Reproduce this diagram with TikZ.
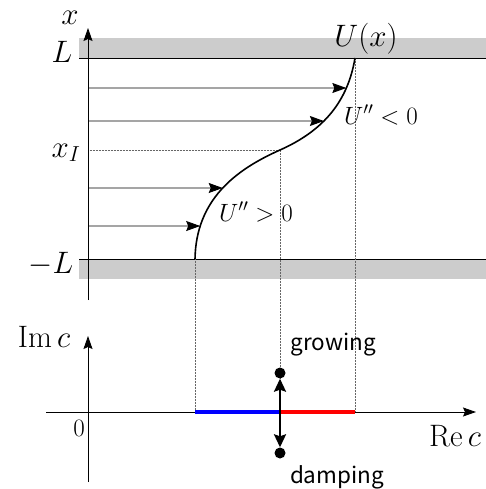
\RequirePackage{fix-cm}
\documentclass[tikz,border=0pt]{standalone}
\usepackage{fontspec}
\newfontfamily\jpfont{Noto Sans CJK JP}
\usetikzlibrary{arrows.meta,intersections}
\begin{document}
\begin{tikzpicture}[x=1pt,y=-1pt,
  lbl/.style={inner sep=0pt,font=\fontsize{31}{36}\selectfont},
  slbl/.style={inner sep=0pt,font=\fontsize{25}{30}\selectfont},
  jplbl/.style={inner sep=0pt,font=\jpfont\fontsize{22.5}{26}\selectfont},
  guide/.style={densely dotted,line width=0.5pt,black!60},
  flow/.style={-{Stealth[length=14pt,width=10pt,inset=2pt]},line width=0.9pt},
  axis/.style={-{Stealth[length=13pt,width=9pt,inset=2pt]},line width=0.9pt},
  bigarrow/.style={-{Stealth[length=13pt,width=12pt,inset=2pt]},line width=2.2pt},
  dot/.style={circle,fill=black,inner sep=0pt,minimum size=11pt}]
\useasboundingbox (0,0) rectangle (486,489);
% walls
\fill[black!20] (79,38) rectangle (486,58);
\fill[black!20] (79,259) rectangle (486,279);
\coordinate (wt0) at (79,58); \coordinate (wt1) at (486,58);
\coordinate (wb0) at (79,259); \coordinate (wb1) at (486,259);
\draw[line width=0.8pt] (wt0) -- (wt1);
\draw[line width=0.8pt] (wb0) -- (wb1);
% curve points
\coordinate (B) at (195,259);
\coordinate (I) at (280,150);
\coordinate (T) at (355,58);
% guides
\coordinate (xI0) at (88,150);
\draw[guide] (xI0) -- (I);
\coordinate (gB) at (195,412);
\coordinate (gI) at (280,412);
\coordinate (gT) at (355,412);
\draw[guide] (B) -- (gB);
\draw[guide] (I) -- (gI);
\draw[guide] (T) -- (gT);
% profile
\draw[line width=1.6pt,name path=prof] (B) .. controls (196,200) and (235,170) .. (I)
   .. controls (325,130) and (348,100) .. (T);
% flow arrows
\foreach \yy/\nm in {88/a,121/b,188/c,226/d}{
  \coordinate (s\nm) at (88,\yy);
  \path[name path=h\nm] (s\nm) -- (486,\yy);
  \path[name intersections={of=prof and h\nm,by={e\nm}}];
  \draw[flow] (s\nm) -- (e\nm);
}
% x axis
\coordinate (xa0) at (88,300);
\coordinate (xa1) at (88,28);
\draw[axis] (xa0) -- (xa1);
% labels top
\node[lbl] (lx) at (70,18) {$x$};
\node[lbl] (lL) at (62,52) {$L$};
\node[lbl] (lxI) at (66,153) {$x_I$};
\node[lbl] (lmL) at (51,264) {$-L$};
\node[lbl] (lU) at (366,39) {$U(x)$};
\node[slbl] (lneg) at (381,115) {$U''<0$};
\node[slbl] (lpos) at (256,212) {$U''>0$};
% complex plane
\coordinate (re0) at (46,412);
\coordinate (re1) at (476,412);
\coordinate (im0) at (88,482);
\coordinate (im1) at (88,336);
\draw[axis] (re0) -- (re1);
\draw[axis] (im0) -- (im1);
\node[lbl] (lIm) at (44,337) {$\mathrm{Im}\,c$};
\node[lbl] (lRe) at (455,436) {$\mathrm{Re}\,c$};
\node[slbl] (l0) at (79,428) {$0$};
\draw[blue,line width=3.5pt] (gB) -- (gI);
\draw[red,line width=3.5pt] (gI) -- (gT);
\node[dot] (dg) at (280,373) {};
\node[dot] (dd) at (280,453) {};
\draw[bigarrow] (gI) -- (dg);
\draw[bigarrow] (gI) -- (dd);
\node[jplbl] (lg) at (333,345) {growing};
\node[jplbl] (ld) at (337,477) {damping};
\end{tikzpicture}
\end{document}
